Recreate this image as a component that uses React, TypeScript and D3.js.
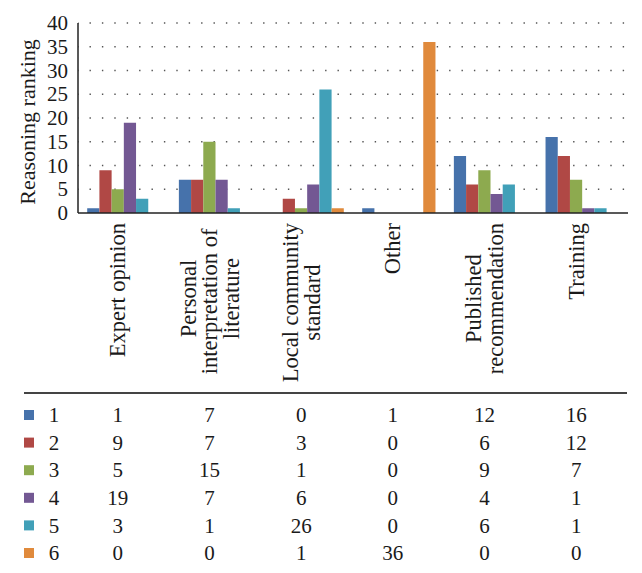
import React from "react";
import * as d3 from "d3";

const categories = [
  ["Expert opinion"],
  ["Personal", "interpretation of ", "literature"],
  ["Local community", "standard"],
  ["Other"],
  ["Published", "recommendation"],
  ["Training"],
];
const seriesNames = ["1", "2", "3", "4", "5", "6"];
const s1 = [1, 7, 0, 1, 12, 16];
const s2 = [9, 7, 3, 0, 6, 12];
const s3 = [5, 15, 1, 0, 9, 7];
const s4 = [19, 7, 6, 0, 4, 1];
const s5 = [3, 1, 26, 0, 6, 1];
const s6 = [0, 0, 1, 36, 0, 0];
const seriesValues = [s1, s2, s3, s4, s5, s6];
const colors = ["#4672ab", "#b04845", "#8daa4f", "#735893", "#41a0b8", "#e08a3c"];
const yTicks = [0, 5, 10, 15, 20, 25, 30, 35, 40];

const W = 642;
const H = 573;
const FONT = "'Liberation Serif', 'Times New Roman', serif";
const TXT = "#1a1a1a";

function measure(text: string, size: number): number {
  if (typeof document === "undefined") return text.length * size * 0.45;
  const c = document.createElement("canvas");
  const ctx = c.getContext("2d");
  if (!ctx) return text.length * size * 0.45;
  ctx.font = `${size}px 'Liberation Serif'`;
  return ctx.measureText(text).width;
}

export default function App() {
  const left = 78;
  const right = 628;
  const top = 23;
  const bottom = 213;

  const x0 = d3
    .scaleBand<number>()
    .domain(d3.range(categories.length))
    .range([left, right])
    .paddingInner(0)
    .paddingOuter(0);
  const pad = 9.2;
  const x1 = d3
    .scaleBand<number>()
    .domain(d3.range(seriesNames.length))
    .range([pad, x0.bandwidth() - pad])
    .padding(0);
  const y = d3.scaleLinear().domain([0, 40]).range([bottom, top]);

  const labelSize = 22.5;
  const labelTop = 223;
  const lineGap = 21.5;

  const tableLineY = 393;
  const rowY = d3.scaleLinear().domain([0, 1]).range([415, 442.6]);

  return (
    <svg
      width={W}
      height={H}
      style={{ position: "absolute", left: 0, top: 0, background: "#fff" }}
      fontFamily={FONT}
    >
      <rect x={0} y={0} width={W} height={H} fill="#fff" />
      {yTicks.slice(1).map((t) => (
        <line
          key={"g" + t}
          x1={left}
          x2={right}
          y1={y(t)}
          y2={y(t)}
          stroke="#555"
          strokeWidth={1.4}
          strokeDasharray="1.4 11"
          strokeDashoffset={-11.5}
        />
      ))}
      {seriesValues.map((vals, si) =>
        vals.map((v, ci) =>
          v > 0 ? (
            <rect
              key={`b${si}-${ci}`}
              x={(x0(ci) as number) + (x1(si) as number)}
              y={y(v)}
              width={x1.bandwidth()}
              height={y(0) - y(v)}
              fill={colors[si]}
            />
          ) : null
        )
      )}
      <line x1={left} x2={left} y1={top} y2={bottom} stroke="#222" strokeWidth={1.5} />
      <line x1={left} x2={right} y1={bottom} y2={bottom} stroke="#222" strokeWidth={1.5} />
      {yTicks.map((t) => (
        <text
          key={"t" + t}
          x={68}
          y={y(t)}
          dy="0.34em"
          textAnchor="end"
          fontSize={21}
          fill={TXT}
        >
          {t}
        </text>
      ))}
      <text
        transform={`translate(28,${(top + bottom) / 2 + 4}) rotate(-90)`}
        textAnchor="middle"
        dy="0.34em"
        fontSize={22}
        fill={TXT}
      >
        Reasoning ranking
      </text>
      {categories.map((lines, ci) => {
        const cx = (x0(ci) as number) + x0.bandwidth() / 2 - 6;
        const maxW = d3.max(lines, (l) => measure(l, labelSize)) as number;
        const cy = labelTop + maxW / 2;
        const n = lines.length;
        return lines.map((l, li) => (
          <text
            key={`c${ci}-${li}`}
            transform={`translate(${cx + (li - (n - 1) / 2) * lineGap},${cy}) rotate(-90)`}
            textAnchor="middle"
            dy="0.34em"
            fontSize={labelSize}
            fill={TXT}
            style={{ whiteSpace: "pre" }}
          >
            {l}
          </text>
        ));
      })}
      <line x1={24} x2={627} y1={tableLineY} y2={tableLineY} stroke="#444" strokeWidth={2} />
      {seriesNames.map((name, si) => (
        <g key={"r" + si}>
          <rect x={24} y={rowY(si) - 5} width={10} height={10} fill={colors[si]} />
          <text x={54} y={rowY(si)} dy="0.34em" textAnchor="middle" fontSize={21} fill={TXT}>
            {name}
          </text>
          {seriesValues[si].map((v, ci) => (
            <text
              key={`v${si}-${ci}`}
              x={(x0(ci) as number) + x0.bandwidth() / 2 - 6}
              y={rowY(si)}
              dy="0.34em"
              textAnchor="middle"
              fontSize={21}
              fill={TXT}
            >
              {v}
            </text>
          ))}
        </g>
      ))}
    </svg>
  );
}
